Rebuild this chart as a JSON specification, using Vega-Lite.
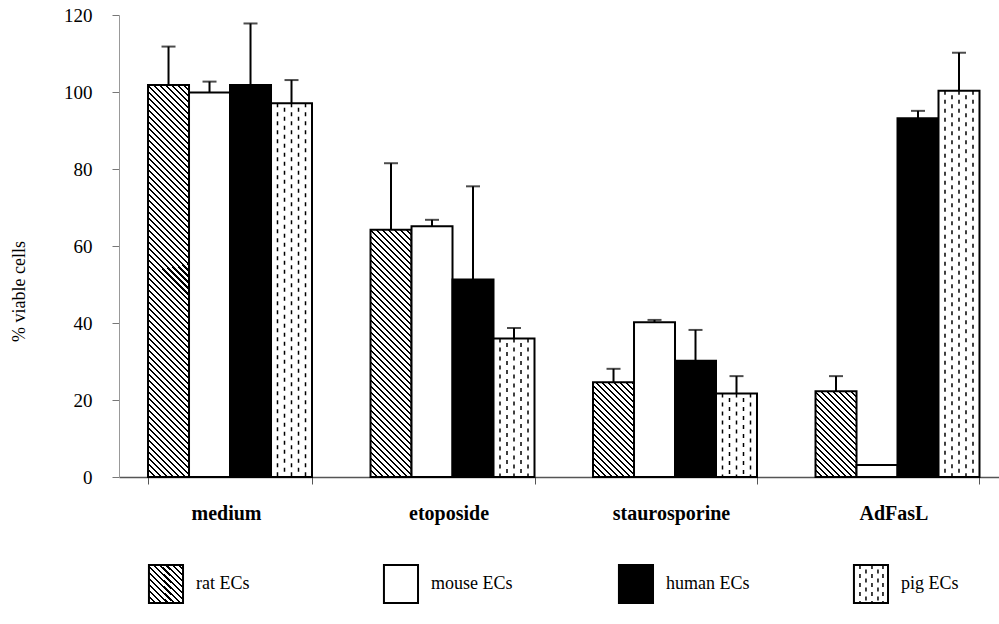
{
  "$schema": "https://vega.github.io/schema/vega-lite/v6.json",
  "padding": {"left": 10, "top": 6, "right": 0, "bottom": 0},
  "config": {"view": {"stroke": null}, "font": "Liberation Serif", "concat": {"spacing": 41}},
  "params": [
    {"name": "hatch", "value": [
{"offset":0,"color":"#000"},{"offset":0.0046,"color":"#000"},{"offset":0.0046,"color":"#fff"},{"offset":0.0137,"color":"#fff"},
{"offset":0.0137,"color":"#000"},{"offset":0.0183,"color":"#000"},{"offset":0.0183,"color":"#fff"},{"offset":0.0274,"color":"#fff"},
{"offset":0.0274,"color":"#000"},{"offset":0.032,"color":"#000"},{"offset":0.032,"color":"#fff"},{"offset":0.0411,"color":"#fff"},
{"offset":0.0411,"color":"#000"},{"offset":0.0457,"color":"#000"},{"offset":0.0457,"color":"#fff"},{"offset":0.0548,"color":"#fff"},
{"offset":0.0548,"color":"#000"},{"offset":0.0594,"color":"#000"},{"offset":0.0594,"color":"#fff"},{"offset":0.0685,"color":"#fff"},
{"offset":0.0685,"color":"#000"},{"offset":0.0731,"color":"#000"},{"offset":0.0731,"color":"#fff"},{"offset":0.0822,"color":"#fff"},
{"offset":0.0822,"color":"#000"},{"offset":0.0868,"color":"#000"},{"offset":0.0868,"color":"#fff"},{"offset":0.0959,"color":"#fff"},
{"offset":0.0959,"color":"#000"},{"offset":0.1005,"color":"#000"},{"offset":0.1005,"color":"#fff"},{"offset":0.1096,"color":"#fff"},
{"offset":0.1096,"color":"#000"},{"offset":0.1142,"color":"#000"},{"offset":0.1142,"color":"#fff"},{"offset":0.1233,"color":"#fff"},
{"offset":0.1233,"color":"#000"},{"offset":0.1279,"color":"#000"},{"offset":0.1279,"color":"#fff"},{"offset":0.137,"color":"#fff"},
{"offset":0.137,"color":"#000"},{"offset":0.1416,"color":"#000"},{"offset":0.1416,"color":"#fff"},{"offset":0.1507,"color":"#fff"},
{"offset":0.1507,"color":"#000"},{"offset":0.1553,"color":"#000"},{"offset":0.1553,"color":"#fff"},{"offset":0.1644,"color":"#fff"},
{"offset":0.1644,"color":"#000"},{"offset":0.169,"color":"#000"},{"offset":0.169,"color":"#fff"},{"offset":0.1781,"color":"#fff"},
{"offset":0.1781,"color":"#000"},{"offset":0.1827,"color":"#000"},{"offset":0.1827,"color":"#fff"},{"offset":0.1918,"color":"#fff"},
{"offset":0.1918,"color":"#000"},{"offset":0.1964,"color":"#000"},{"offset":0.1964,"color":"#fff"},{"offset":0.2055,"color":"#fff"},
{"offset":0.2055,"color":"#000"},{"offset":0.2101,"color":"#000"},{"offset":0.2101,"color":"#fff"},{"offset":0.2192,"color":"#fff"},
{"offset":0.2192,"color":"#000"},{"offset":0.2238,"color":"#000"},{"offset":0.2238,"color":"#fff"},{"offset":0.2329,"color":"#fff"},
{"offset":0.2329,"color":"#000"},{"offset":0.2375,"color":"#000"},{"offset":0.2375,"color":"#fff"},{"offset":0.2466,"color":"#fff"},
{"offset":0.2466,"color":"#000"},{"offset":0.2512,"color":"#000"},{"offset":0.2512,"color":"#fff"},{"offset":0.2603,"color":"#fff"},
{"offset":0.2603,"color":"#000"},{"offset":0.2649,"color":"#000"},{"offset":0.2649,"color":"#fff"},{"offset":0.274,"color":"#fff"},
{"offset":0.274,"color":"#000"},{"offset":0.2786,"color":"#000"},{"offset":0.2786,"color":"#fff"},{"offset":0.2877,"color":"#fff"},
{"offset":0.2877,"color":"#000"},{"offset":0.2923,"color":"#000"},{"offset":0.2923,"color":"#fff"},{"offset":0.3014,"color":"#fff"},
{"offset":0.3014,"color":"#000"},{"offset":0.306,"color":"#000"},{"offset":0.306,"color":"#fff"},{"offset":0.3151,"color":"#fff"},
{"offset":0.3151,"color":"#000"},{"offset":0.3197,"color":"#000"},{"offset":0.3197,"color":"#fff"},{"offset":0.3288,"color":"#fff"},
{"offset":0.3288,"color":"#000"},{"offset":0.3334,"color":"#000"},{"offset":0.3334,"color":"#fff"},{"offset":0.3425,"color":"#fff"},
{"offset":0.3425,"color":"#000"},{"offset":0.3471,"color":"#000"},{"offset":0.3471,"color":"#fff"},{"offset":0.3562,"color":"#fff"},
{"offset":0.3562,"color":"#000"},{"offset":0.3608,"color":"#000"},{"offset":0.3608,"color":"#fff"},{"offset":0.3699,"color":"#fff"},
{"offset":0.3699,"color":"#000"},{"offset":0.3745,"color":"#000"},{"offset":0.3745,"color":"#fff"},{"offset":0.3836,"color":"#fff"},
{"offset":0.3836,"color":"#000"},{"offset":0.3882,"color":"#000"},{"offset":0.3882,"color":"#fff"},{"offset":0.3973,"color":"#fff"},
{"offset":0.3973,"color":"#000"},{"offset":0.4019,"color":"#000"},{"offset":0.4019,"color":"#fff"},{"offset":0.411,"color":"#fff"},
{"offset":0.411,"color":"#000"},{"offset":0.4156,"color":"#000"},{"offset":0.4156,"color":"#fff"},{"offset":0.4247,"color":"#fff"},
{"offset":0.4247,"color":"#000"},{"offset":0.4293,"color":"#000"},{"offset":0.4293,"color":"#fff"},{"offset":0.4384,"color":"#fff"},
{"offset":0.4384,"color":"#000"},{"offset":0.443,"color":"#000"},{"offset":0.443,"color":"#fff"},{"offset":0.4521,"color":"#fff"},
{"offset":0.4521,"color":"#000"},{"offset":0.4567,"color":"#000"},{"offset":0.4567,"color":"#fff"},{"offset":0.4658,"color":"#fff"},
{"offset":0.4658,"color":"#000"},{"offset":0.4704,"color":"#000"},{"offset":0.4704,"color":"#fff"},{"offset":0.4795,"color":"#fff"},
{"offset":0.4795,"color":"#000"},{"offset":0.4841,"color":"#000"},{"offset":0.4841,"color":"#fff"},{"offset":0.4932,"color":"#fff"},
{"offset":0.4932,"color":"#000"},{"offset":0.4978,"color":"#000"},{"offset":0.4978,"color":"#fff"},{"offset":0.5068,"color":"#fff"},
{"offset":0.5068,"color":"#000"},{"offset":0.5114,"color":"#000"},{"offset":0.5114,"color":"#fff"},{"offset":0.5205,"color":"#fff"},
{"offset":0.5205,"color":"#000"},{"offset":0.5251,"color":"#000"},{"offset":0.5251,"color":"#fff"},{"offset":0.5342,"color":"#fff"},
{"offset":0.5342,"color":"#000"},{"offset":0.5388,"color":"#000"},{"offset":0.5388,"color":"#fff"},{"offset":0.5479,"color":"#fff"},
{"offset":0.5479,"color":"#000"},{"offset":0.5525,"color":"#000"},{"offset":0.5525,"color":"#fff"},{"offset":0.5616,"color":"#fff"},
{"offset":0.5616,"color":"#000"},{"offset":0.5662,"color":"#000"},{"offset":0.5662,"color":"#fff"},{"offset":0.5753,"color":"#fff"},
{"offset":0.5753,"color":"#000"},{"offset":0.5799,"color":"#000"},{"offset":0.5799,"color":"#fff"},{"offset":0.589,"color":"#fff"},
{"offset":0.589,"color":"#000"},{"offset":0.5936,"color":"#000"},{"offset":0.5936,"color":"#fff"},{"offset":0.6027,"color":"#fff"},
{"offset":0.6027,"color":"#000"},{"offset":0.6073,"color":"#000"},{"offset":0.6073,"color":"#fff"},{"offset":0.6164,"color":"#fff"},
{"offset":0.6164,"color":"#000"},{"offset":0.621,"color":"#000"},{"offset":0.621,"color":"#fff"},{"offset":0.6301,"color":"#fff"},
{"offset":0.6301,"color":"#000"},{"offset":0.6347,"color":"#000"},{"offset":0.6347,"color":"#fff"},{"offset":0.6438,"color":"#fff"},
{"offset":0.6438,"color":"#000"},{"offset":0.6484,"color":"#000"},{"offset":0.6484,"color":"#fff"},{"offset":0.6575,"color":"#fff"},
{"offset":0.6575,"color":"#000"},{"offset":0.6621,"color":"#000"},{"offset":0.6621,"color":"#fff"},{"offset":0.6712,"color":"#fff"},
{"offset":0.6712,"color":"#000"},{"offset":0.6758,"color":"#000"},{"offset":0.6758,"color":"#fff"},{"offset":0.6849,"color":"#fff"},
{"offset":0.6849,"color":"#000"},{"offset":0.6895,"color":"#000"},{"offset":0.6895,"color":"#fff"},{"offset":0.6986,"color":"#fff"},
{"offset":0.6986,"color":"#000"},{"offset":0.7032,"color":"#000"},{"offset":0.7032,"color":"#fff"},{"offset":0.7123,"color":"#fff"},
{"offset":0.7123,"color":"#000"},{"offset":0.7169,"color":"#000"},{"offset":0.7169,"color":"#fff"},{"offset":0.726,"color":"#fff"},
{"offset":0.726,"color":"#000"},{"offset":0.7306,"color":"#000"},{"offset":0.7306,"color":"#fff"},{"offset":0.7397,"color":"#fff"},
{"offset":0.7397,"color":"#000"},{"offset":0.7443,"color":"#000"},{"offset":0.7443,"color":"#fff"},{"offset":0.7534,"color":"#fff"},
{"offset":0.7534,"color":"#000"},{"offset":0.758,"color":"#000"},{"offset":0.758,"color":"#fff"},{"offset":0.7671,"color":"#fff"},
{"offset":0.7671,"color":"#000"},{"offset":0.7717,"color":"#000"},{"offset":0.7717,"color":"#fff"},{"offset":0.7808,"color":"#fff"},
{"offset":0.7808,"color":"#000"},{"offset":0.7854,"color":"#000"},{"offset":0.7854,"color":"#fff"},{"offset":0.7945,"color":"#fff"},
{"offset":0.7945,"color":"#000"},{"offset":0.7991,"color":"#000"},{"offset":0.7991,"color":"#fff"},{"offset":0.8082,"color":"#fff"},
{"offset":0.8082,"color":"#000"},{"offset":0.8128,"color":"#000"},{"offset":0.8128,"color":"#fff"},{"offset":0.8219,"color":"#fff"},
{"offset":0.8219,"color":"#000"},{"offset":0.8265,"color":"#000"},{"offset":0.8265,"color":"#fff"},{"offset":0.8356,"color":"#fff"},
{"offset":0.8356,"color":"#000"},{"offset":0.8402,"color":"#000"},{"offset":0.8402,"color":"#fff"},{"offset":0.8493,"color":"#fff"},
{"offset":0.8493,"color":"#000"},{"offset":0.8539,"color":"#000"},{"offset":0.8539,"color":"#fff"},{"offset":0.863,"color":"#fff"},
{"offset":0.863,"color":"#000"},{"offset":0.8676,"color":"#000"},{"offset":0.8676,"color":"#fff"},{"offset":0.8767,"color":"#fff"},
{"offset":0.8767,"color":"#000"},{"offset":0.8813,"color":"#000"},{"offset":0.8813,"color":"#fff"},{"offset":0.8904,"color":"#fff"},
{"offset":0.8904,"color":"#000"},{"offset":0.895,"color":"#000"},{"offset":0.895,"color":"#fff"},{"offset":0.9041,"color":"#fff"},
{"offset":0.9041,"color":"#000"},{"offset":0.9087,"color":"#000"},{"offset":0.9087,"color":"#fff"},{"offset":0.9178,"color":"#fff"},
{"offset":0.9178,"color":"#000"},{"offset":0.9224,"color":"#000"},{"offset":0.9224,"color":"#fff"},{"offset":0.9315,"color":"#fff"},
{"offset":0.9315,"color":"#000"},{"offset":0.9361,"color":"#000"},{"offset":0.9361,"color":"#fff"},{"offset":0.9452,"color":"#fff"},
{"offset":0.9452,"color":"#000"},{"offset":0.9498,"color":"#000"},{"offset":0.9498,"color":"#fff"},{"offset":0.9589,"color":"#fff"},
{"offset":0.9589,"color":"#000"},{"offset":0.9635,"color":"#000"},{"offset":0.9635,"color":"#fff"},{"offset":0.9726,"color":"#fff"},
{"offset":0.9726,"color":"#000"},{"offset":0.9772,"color":"#000"},{"offset":0.9772,"color":"#fff"},{"offset":0.9863,"color":"#fff"},
{"offset":0.9863,"color":"#000"},{"offset":0.9909,"color":"#000"},{"offset":0.9909,"color":"#fff"},{"offset":1,"color":"#fff"}
    ]}
  ],
  "data": {"values": [
    {"treatment":"medium","cells":"rat ECs","viable":101.8,"upper":111.8},
    {"treatment":"medium","cells":"mouse ECs","viable":99.9,"upper":102.7},
    {"treatment":"medium","cells":"human ECs","viable":101.8,"upper":117.8},
    {"treatment":"medium","cells":"pig ECs","viable":97.1,"upper":103.1},
    {"treatment":"etoposide","cells":"rat ECs","viable":64.2,"upper":81.5},
    {"treatment":"etoposide","cells":"mouse ECs","viable":65.1,"upper":66.8},
    {"treatment":"etoposide","cells":"human ECs","viable":51.3,"upper":75.5},
    {"treatment":"etoposide","cells":"pig ECs","viable":36.0,"upper":38.7},
    {"treatment":"staurosporine","cells":"rat ECs","viable":24.6,"upper":28.1},
    {"treatment":"staurosporine","cells":"mouse ECs","viable":40.2,"upper":40.8},
    {"treatment":"staurosporine","cells":"human ECs","viable":30.2,"upper":38.2},
    {"treatment":"staurosporine","cells":"pig ECs","viable":21.7,"upper":26.2},
    {"treatment":"AdFasL","cells":"rat ECs","viable":22.3,"upper":26.2},
    {"treatment":"AdFasL","cells":"mouse ECs","viable":3.1,"upper":null},
    {"treatment":"AdFasL","cells":"human ECs","viable":93.2,"upper":95.1},
    {"treatment":"AdFasL","cells":"pig ECs","viable":100.3,"upper":110.2}
  ]},
  "resolve": {"scale": {"x": "independent"}},
  "vconcat": [
    {
      "width": 881,
      "height": 462,
      "encoding": {
        "x": {"field": "treatment", "type": "nominal", "sort": ["medium","etoposide","staurosporine","AdFasL"],
              "scale": {"paddingInner": 0.263, "paddingOuter": 0.1113, "align": 0.586, "round": false},
              "axis": {"title": null, "labelAngle": 0, "labelFontWeight": "bold", "labelFontSize": 20, "labelColor": "#000",
                       "tickBand": "extent", "tickSize": 7, "tickColor": "#555", "domainColor": "#555", "domainWidth": 1.5,
                       "labelPadding": 19, "labelOffset": -4, "grid": false}},
        "y": {"field": "viable", "type": "quantitative",
              "scale": {"domain": [0, 120], "nice": false},
              "axis": {"title": "% viable cells", "values": [0,20,40,60,80,100,120], "grid": false,
                       "labelFontSize": 19, "labelColor": "#000", "labelPadding": 20, "tickSize": 7,
                       "tickColor": "#777", "domainColor": "#999", "titleFontSize": 18, "titleFontWeight": "normal",
                       "titleColor": "#000", "titleX": -100, "titleY": 276, "titleBaseline": "middle"}}
      },
      "layer": [
        {
          "mark": {"type": "bar", "stroke": "#000", "strokeWidth": 2,
                   "fill": {"expr": "datum.cells==='rat ECs' ? {gradient:'linear',x1:0,y1:1,x2:438*41/(1681+pow(datum.viable*3.85,2)),y2:1-438*datum.viable*3.85/(1681+pow(datum.viable*3.85,2)),stops:hatch} : (datum.cells==='human ECs' ? '#000' : '#fff')"}},
          "encoding": {
            "xOffset": {"field": "cells", "type": "nominal", "sort": ["rat ECs","mouse ECs","human ECs","pig ECs"],
                        "scale": {"paddingInner": 0, "paddingOuter": 0}}
          }
        },
        {"transform": [{"filter": "datum.cells==='pig ECs'"}],
         "mark": {"type": "rule", "color": "#000", "strokeWidth": 1.5, "strokeDash": [4, 5], "strokeDashOffset": 0},
         "encoding": {"x": {"field": "treatment", "type": "nominal", "sort": ["medium","etoposide","staurosporine","AdFasL"], "bandPosition": 0.7896},
                      "y2": {"datum": 0}}},
        {"transform": [{"filter": "datum.cells==='pig ECs'"}],
         "mark": {"type": "rule", "color": "#000", "strokeWidth": 1.5, "strokeDash": [4, 5], "strokeDashOffset": 4.5},
         "encoding": {"x": {"field": "treatment", "type": "nominal", "sort": ["medium","etoposide","staurosporine","AdFasL"], "bandPosition": 0.8323},
                      "y2": {"datum": 0}}},
        {"transform": [{"filter": "datum.cells==='pig ECs'"}],
         "mark": {"type": "rule", "color": "#000", "strokeWidth": 1.5, "strokeDash": [4, 5], "strokeDashOffset": 0},
         "encoding": {"x": {"field": "treatment", "type": "nominal", "sort": ["medium","etoposide","staurosporine","AdFasL"], "bandPosition": 0.875},
                      "y2": {"datum": 0}}},
        {"transform": [{"filter": "datum.cells==='pig ECs'"}],
         "mark": {"type": "rule", "color": "#000", "strokeWidth": 1.5, "strokeDash": [4, 5], "strokeDashOffset": 4.5},
         "encoding": {"x": {"field": "treatment", "type": "nominal", "sort": ["medium","etoposide","staurosporine","AdFasL"], "bandPosition": 0.9177},
                      "y2": {"datum": 0}}},
        {"transform": [{"filter": "datum.cells==='pig ECs'"}],
         "mark": {"type": "rule", "color": "#000", "strokeWidth": 1.5, "strokeDash": [4, 5], "strokeDashOffset": 0},
         "encoding": {"x": {"field": "treatment", "type": "nominal", "sort": ["medium","etoposide","staurosporine","AdFasL"], "bandPosition": 0.9604},
                      "y2": {"datum": 0}}},
        {"transform": [{"filter": "isValid(datum.upper)"}],
         "mark": {"type": "rule", "color": "#000", "strokeWidth": 2},
         "encoding": {"xOffset": {"field": "cells", "type": "nominal", "sort": ["rat ECs","mouse ECs","human ECs","pig ECs"]},
                      "y2": {"field": "upper"}}},
        {"transform": [{"filter": "isValid(datum.upper)"}],
         "mark": {"type": "tick", "color": "#000", "size": 14, "thickness": 2},
         "encoding": {"xOffset": {"field": "cells", "type": "nominal", "sort": ["rat ECs","mouse ECs","human ECs","pig ECs"]},
                      "y": {"field": "upper", "type": "quantitative"}}}
      ]
    },
    {
      "width": 881,
      "height": 38,
      "data": {"values": [{"cells":"rat ECs"},{"cells":"mouse ECs"},{"cells":"human ECs"},{"cells":"pig ECs"}]},
      "encoding": {
        "x": {"field": "cells", "type": "nominal", "sort": ["rat ECs","mouse ECs","human ECs","pig ECs"], "axis": null,
              "scale": {"paddingInner": 0.855, "paddingOuter": 0.302, "align": 0.211, "round": false}}
      },
      "layer": [
        {"mark": {"type": "rect", "stroke": "#000", "strokeWidth": 2,
                  "fill": {"expr": "datum.cells==='rat ECs' ? {gradient:'linear',x1:0,y1:1,x2:5.7277,y2:-5.4015,stops:hatch} : (datum.cells==='human ECs' ? '#000' : '#fff')"}}},
        {"transform": [{"filter": "datum.cells==='pig ECs'"}],
         "mark": {"type": "rule", "color": "#000", "strokeWidth": 1.5, "strokeDash": [4, 5], "xOffset": -11}},
        {"transform": [{"filter": "datum.cells==='pig ECs'"}],
         "mark": {"type": "rule", "color": "#000", "strokeWidth": 1.5, "strokeDash": [4, 5], "strokeDashOffset": 4.5, "xOffset": -5}},
        {"transform": [{"filter": "datum.cells==='pig ECs'"}],
         "mark": {"type": "rule", "color": "#000", "strokeWidth": 1.5, "strokeDash": [4, 5], "xOffset": 1}},
        {"transform": [{"filter": "datum.cells==='pig ECs'"}],
         "mark": {"type": "rule", "color": "#000", "strokeWidth": 1.5, "strokeDash": [4, 5], "strokeDashOffset": 4.5, "xOffset": 7}},
        {"transform": [{"filter": "datum.cells==='pig ECs'"}],
         "mark": {"type": "rule", "color": "#000", "strokeWidth": 1.5, "strokeDash": [4, 5], "xOffset": 12}},
        {"mark": {"type": "text", "align": "left", "baseline": "middle", "dx": 30, "fontSize": 18, "color": "#000"},
         "encoding": {"text": {"field": "cells"}}}
      ]
    }
  ]
}
